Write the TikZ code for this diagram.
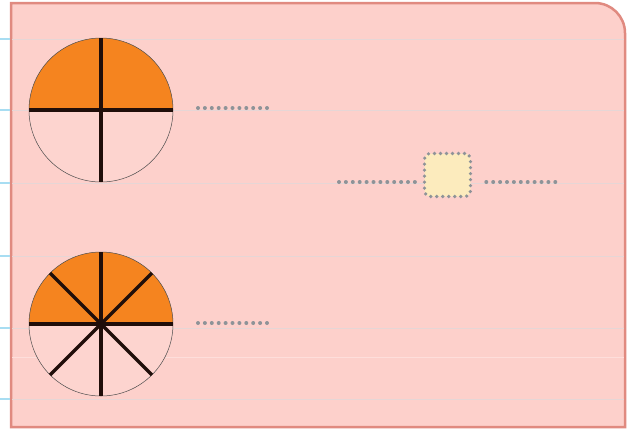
\documentclass[tikz,border=0pt]{standalone}
\usetikzlibrary{calc}
\definecolor{cardfill}{HTML}{FDD0CB}
\definecolor{cardedge}{HTML}{E08A80}
\definecolor{orangef}{HTML}{F5841F}
\definecolor{spoke}{HTML}{200E0A}
\definecolor{dotgray}{HTML}{8E9398}
\definecolor{sqfill}{HTML}{FCEBBD}
\definecolor{tickblue}{HTML}{A8DDF2}
\definecolor{ruleline}{HTML}{E6D6D6}
\tikzset{
  spokeline/.style={draw=spoke, line width=3.2pt},
  rim/.style={draw=black!70, line width=0.5pt},
  dotline/.style={draw=dotgray, line width=4pt, line cap=round, dash pattern=on 0pt off 6.9pt},
  sqnode/.style={draw=dotgray, fill=sqfill, line width=3.6pt, dash pattern=on 0pt off 6pt, line cap=round, rounded corners=6pt, minimum width=46pt, minimum height=43pt, inner sep=0pt},
}
\begin{document}
\begin{tikzpicture}[x=1pt,y=-1pt]
\useasboundingbox (0,0) rectangle (627,429);
\fill[white] (0,0) rectangle (627,429);
% card
\draw[cardedge, fill=cardfill, line width=2.5pt]
  (11,3) -- (595,3) arc[start angle=270, end angle=360, radius=30] -- (625,427) -- (11,427) -- cycle;
% rule lines
\foreach \yy in {39,110,183,256,328,399} {
  \draw[tickblue, line width=1.5pt] (0,\yy) -- (10,\yy);
  \draw[ruleline, line width=1pt] (12,\yy) -- (624,\yy);
}
\draw[white!30!cardfill, line width=0.6pt] (12,357) -- (624,357);
% top circle
\coordinate (c1) at (101,110);
\fill[cardfill!92!white] (c1) circle[radius=72];
\fill[orangef] ($(c1)+(-72,0)$) arc[start angle=180, end angle=360, radius=72] -- cycle;
\draw[rim] (c1) circle[radius=72];
\draw[spokeline] ($(c1)+(-72,0)$) -- ($(c1)+(72,0)$);
\draw[spokeline] ($(c1)+(0,-72)$) -- ($(c1)+(0,72)$);
% bottom circle
\coordinate (c2) at (101,324);
\fill[cardfill!92!white] (c2) circle[radius=72];
\fill[orangef] ($(c2)+(-72,0)$) arc[start angle=180, end angle=360, radius=72] -- cycle;
\draw[rim] (c2) circle[radius=72];
\foreach \a in {0,45,90,135} {
  \draw[spokeline] ($(c2)+(\a:72)$) -- ($(c2)+(\a+180:72)$);
}
% dotted connectors
\coordinate (d1a) at (198,108); \coordinate (d1b) at (272,108);
\draw[dotline] (d1a) -- (d1b);
\coordinate (d2a) at (198,323); \coordinate (d2b) at (272,323);
\draw[dotline] (d2a) -- (d2b);
\node[sqnode] (sq) at (447.5,175) {};
\coordinate (d3a) at (339,182);
\coordinate (d4b) at (559,182);
\draw[dotline] (d3a) -- ($(d3a -| sq.west)+(-6,0)$);
\draw[dotline] ($(d4b -| sq.east)+(14,0)$) -- (d4b);
\end{tikzpicture}
\end{document}
